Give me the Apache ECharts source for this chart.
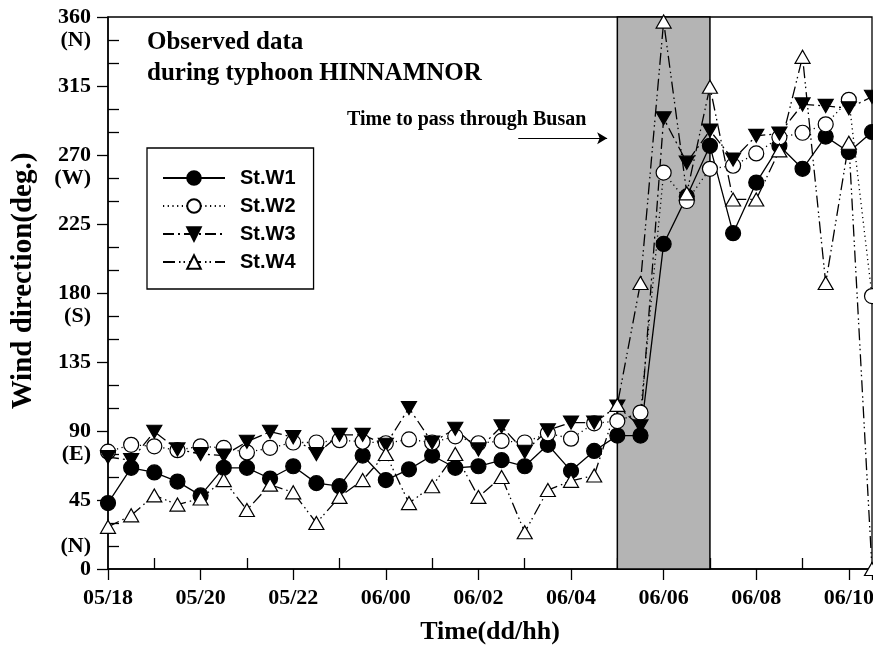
<!DOCTYPE html>
<html>
<head>
<meta charset="utf-8">
<script src="https://cdn.jsdelivr.net/npm/echarts@6/dist/echarts.min.js"></script>
<style>
  html, body { margin: 0; padding: 0; background: #fff; }
  #chart { width: 873px; height: 648px; }
</style>
</head>
<body>
<div id="chart"></div>
<script>
// Time in hours from 05/18 (dd/hh), sampled every half hour
const times = [0, 0.5, 1, 1.5, 2, 2.5, 3, 3.5, 4, 4.5, 5, 5.5, 6, 6.5, 7, 7.5, 8, 8.5,
               9, 9.5, 10, 10.5, 11, 11.5, 12, 12.5, 13, 13.5, 14, 14.5, 15, 15.5, 16, 16.5];
const stW1 = [43, 66, 63, 57, 48, 66, 66, 59, 67, 56, 54, 74, 58, 65, 74, 66, 67, 71,
              67, 81, 64, 77, 87, 87, 212, 243, 276, 219, 252, 276, 261, 282, 272, 285];
const stW2 = [76.5, 81, 80, 77.5, 80, 79, 76, 79, 82.5, 82.5, 84, 83, 82, 84.5, 82.5, 86.5, 82, 83.5,
              82.5, 88.5, 85, 95, 96.5, 102, 258.5, 240, 261, 263, 271, 281.5, 284.5, 290, 306, 178];
const stW3 = [73, 71, 89.5, 78, 75, 74, 83, 89.5, 86, 75, 87.5, 87.5, 81, 105, 82.5, 91.5, 78, 93,
              76.5, 90.5, 95.5, 95.5, 106, 93, 294, 265, 286, 267, 282.5, 284, 303, 302, 300.5, 308];
const stW4 = [27.5, 35, 48, 42, 46, 58, 38.5, 55, 50, 30, 47, 58, 75, 43, 54, 75, 47, 60,
              24, 51.5, 57.5, 61, 107, 186.5, 357, 245, 314.5, 241, 241, 273, 334, 186.5, 278, 0];
const seriesNames = ['St.W1', 'St.W2', 'St.W3', 'St.W4'];
// Passing period (hours from 05/18)
const passBand = [11, 13];
// Arrow annotation: [x start, x end, y]
const arrowSpan = [8.86, 10.78, 281];
const yTickValues = [0, 45, 90, 135, 180, 225, 270, 315, 360];
const compassLabels = { 345: '(N)', 255: '(W)', 165: '(S)', 75: '(E)', 15: '(N)' };

const serif = 'Liberation Serif';
const pad2 = n => (n < 10 ? '0' : '') + n;
function timeLabel(t) {
  const total = 18 + t;
  const day = 5 + Math.floor(total / 24);
  const hour = total % 24;
  return pad2(day) + '/' + pad2(hour);
}

const chart = echarts.init(document.getElementById('chart'), null, { renderer: 'canvas' });
const mk = arr => times.map((t, i) => [t, arr[i]]);

const baseSeries = (name, data, symbol, fill, lineType, rotate, size) => ({
  name: name,
  type: 'line',
  data: mk(data),
  symbol: symbol,
  symbolSize: size,
  symbolRotate: rotate,
  showAllSymbol: true,
  lineStyle: { color: '#000', width: 1.3, type: lineType },
  itemStyle: { color: fill, borderColor: '#000', borderWidth: 1.2 },
  emphasis: { disabled: true },
  animation: false
});

const s1 = baseSeries(seriesNames[0], stW1, 'circle', '#000', 'solid', 0, 15);
s1.markArea = {
  silent: true,
  itemStyle: { color: '#b4b4b4', borderColor: '#000', borderWidth: 1.5 },
  data: [[{ xAxis: passBand[0] }, { xAxis: passBand[1] }]]
};
s1.markLine = {
  silent: true,
  symbol: ['none', 'arrow'],
  symbolSize: [9, 10],
  lineStyle: { color: '#000', width: 1, type: 'solid' },
  label: { show: false },
  data: [[{ coord: [arrowSpan[0], arrowSpan[2]] }, { coord: [arrowSpan[1], arrowSpan[2]] }]]
};
const s2 = baseSeries(seriesNames[1], stW2, 'circle', '#fff', [1.2, 3.5], 0, 15);
const s3 = baseSeries(seriesNames[2], stW3, 'triangle', '#000', [11, 4, 2, 4], 180, [15, 13]);
const s4 = baseSeries(seriesNames[3], stW4, 'triangle', '#fff', [12, 4, 1.5, 3, 1.5, 4], 0, [15, 13]);

const option = {
  backgroundColor: '#fff',
  animation: false,
  title: {
    text: 'Observed data\nduring typhoon HINNAMNOR',
    left: 147, top: 27, padding: 0,
    textStyle: { fontFamily: serif, fontWeight: 'bold', fontSize: 25, lineHeight: 31, color: '#000' }
  },
  legend: {
    left: 147, top: 148,
    orient: 'vertical',
    data: seriesNames,
    itemWidth: 62, itemHeight: 17, itemGap: 8,
    padding: [20, 18, 17, 15],
    borderColor: '#000', borderWidth: 1.3,
    backgroundColor: '#fff',
    selectedMode: false,
    textStyle: { fontFamily: 'Liberation Sans', fontWeight: 'bold', fontSize: 20, lineHeight: 20, color: '#000', padding: [0, 0, 0, 10] }
  },
  grid: {
    left: 108, right: 1, top: 17, bottom: 79, containLabel: false, outerBoundsMode: 'none',
    show: true, borderColor: '#000', borderWidth: 1.3, backgroundColor: 'transparent'
  },
  xAxis: {
    type: 'value', min: 0, max: 16.5, interval: 2,
    name: 'Time(dd/hh)', nameLocation: 'middle', nameGap: 50, nameMoveOverlap: false,
    nameTextStyle: { fontFamily: serif, fontWeight: 'bold', fontSize: 26, color: '#000' },
    axisLine: { show: true, lineStyle: { color: '#000', width: 1.5 } },
    axisTick: { show: true, inside: false, length: 11, lineStyle: { color: '#000', width: 1.3 } },
    minorTick: { show: true, splitNumber: 2, length: -11, lineStyle: { color: '#000', width: 1.3 } },
    splitLine: { show: false },
    axisLabel: {
      margin: 18, formatter: v => timeLabel(v), showMaxLabel: false,
      fontFamily: serif, fontWeight: 'bold', fontSize: 22, color: '#000'
    }
  },
  yAxis: [{
    type: 'value', min: 0, max: 360, interval: 45,
    name: 'Wind direction(deg.)', nameLocation: 'middle', nameGap: 70, nameRotate: 90, nameMoveOverlap: false,
    nameTextStyle: { fontFamily: serif, fontWeight: 'bold', fontSize: 29, color: '#000', padding: [0, 0, 0, 24] },
    axisLine: { show: true, lineStyle: { color: '#000', width: 1.5 } },
    axisTick: { show: true, inside: false, length: 11, lineStyle: { color: '#000', width: 1.3 } },
    minorTick: { show: true, splitNumber: 3, length: -11, lineStyle: { color: '#000', width: 1.3 } },
    splitLine: { show: false },
    axisLabel: {
      margin: 17, formatter: v => (yTickValues.indexOf(v) >= 0 ? String(v) : ''),
      fontFamily: serif, fontWeight: 'bold', fontSize: 22, color: '#000'
    }
  }, {
    type: 'value', min: 0, max: 360, interval: 15, position: 'left', offset: 0,
    axisLine: { show: false }, axisTick: { show: false }, splitLine: { show: false },
    axisLabel: {
      margin: 17, formatter: v => compassLabels[v] || '',
      fontFamily: serif, fontWeight: 'bold', fontSize: 22, color: '#000'
    }
  }],
  graphic: [{
    type: 'text', left: 347, top: 110, silent: true,
    style: { text: 'Time to pass through Busan', font: 'bold 20px "Liberation Serif"', fill: '#000' }
  }],
  series: [s1, s2, s3, s4]
};
chart.setOption(option);
</script>
</body>
</html>
